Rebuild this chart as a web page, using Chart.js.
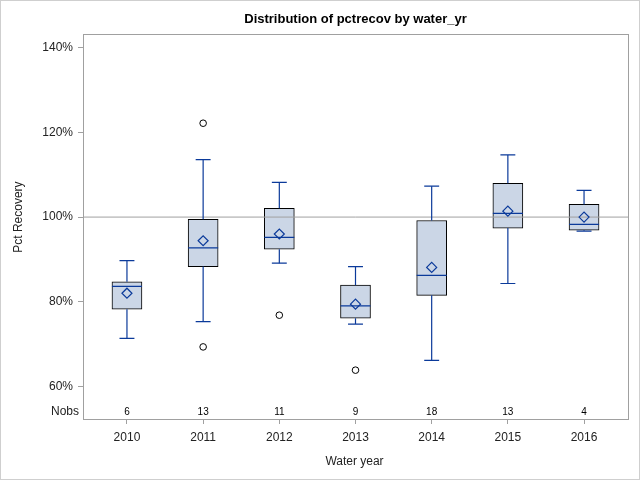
<!DOCTYPE html>
<html>
<head>
<meta charset="utf-8">
<script src="https://cdn.jsdelivr.net/npm/chart.js@4/dist/chart.umd.min.js"></script>
<style>
html,body{margin:0;padding:0;background:#fff;}
canvas{display:block;}
</style>
</head>
<body>
<canvas id="c" width="640" height="480"></canvas>
<script>
// ---- data ----
const categories = ['2010','2011','2012','2013','2014','2015','2016'];
const whiskerLow  = [71.3, 75.3, 89.1, 74.7, 66.1, 84.3, 96.7];
const q1Values    = [78.2, 88.3, 92.4, 76.1, 81.5, 97.4, 96.9];
const medians     = [83.6, 92.7, 95.2, 79.0, 86.2, 100.9, 98.3];
const q3Values    = [84.7, 99.5, 102.1, 83.9, 99.2, 108.0, 103.0];
const whiskerHigh = [89.7, 113.6, 108.2, 88.3, 107.3, 114.7, 106.3];
const means       = [82.0, 94.4, 96.0, 79.4, 88.1, 101.4, 100.0];
const outlierCat  = [1, 1, 2, 3];
const outlierVal  = [122.2, 69.3, 76.8, 63.8];
const nobs        = [6, 13, 11, 9, 18, 13, 4];
const yTicks      = [60, 80, 100, 120, 140];
const refValue    = 100;

// ---- styling ----
const BLUE = '#0b3a9a';
const FILL = '#cbd6e6';
const GRAY = '#a0a0a0';
const FONT = '"Liberation Sans", Arial, sans-serif';
const X_MIN = -0.577, X_MAX = 6.577;
const CAP = 0.098, HALF = 0.197;

// build derived datasets
const boxData = categories.map((c, i) => ({x: i, y: [q1Values[i], q3Values[i]]}));
const whiskerData = [];
const capData = [];
const medianData = [];
categories.forEach((c, i) => {
  whiskerData.push({x: i, y: q3Values[i]}, {x: i, y: whiskerHigh[i]}, {x: i, y: null});
  whiskerData.push({x: i, y: q1Values[i]}, {x: i, y: whiskerLow[i]}, {x: i, y: null});
  capData.push({x: i - CAP, y: whiskerHigh[i]}, {x: i + CAP, y: whiskerHigh[i]}, {x: i, y: null});
  capData.push({x: i - CAP, y: whiskerLow[i]}, {x: i + CAP, y: whiskerLow[i]}, {x: i, y: null});
  medianData.push({x: i - HALF, y: medians[i]}, {x: i + HALF, y: medians[i]}, {x: i, y: null});
});
const meanData = categories.map((c, i) => ({x: i, y: means[i]}));
const outlierData = outlierCat.map((c, k) => ({x: c, y: outlierVal[k]}));
const refData = [{x: X_MIN, y: refValue}, {x: X_MAX, y: refValue}];

const decor = {
  id: 'decor',
  beforeDraw(chart) {
    const ctx = chart.ctx;
    ctx.save();
    ctx.fillStyle = '#fff';
    ctx.fillRect(0, 0, chart.width, chart.height);
    ctx.restore();
  },
  afterDraw(chart) {
    const ctx = chart.ctx;
    const a = chart.chartArea;
    const xs = chart.scales.x, ys = chart.scales.y;
    ctx.save();
    // plot frame
    ctx.strokeStyle = GRAY;
    ctx.lineWidth = 1;
    ctx.strokeRect(Math.round(a.left) + 0.5, Math.round(a.top) + 0.5,
                   Math.round(a.right - a.left), Math.round(a.bottom - a.top));
    // outer border
    ctx.strokeStyle = '#cfcfcf';
    ctx.strokeRect(0.5, 0.5, chart.width - 1, chart.height - 1);
    // title
    ctx.fillStyle = '#000';
    ctx.font = 'bold 13px ' + FONT;
    ctx.textAlign = 'center';
    ctx.textBaseline = 'alphabetic';
    ctx.fillText('Distribution of pctrecov by water_yr', (a.left + a.right) / 2, 23);
    // x title
    ctx.fillStyle = '#222';
    ctx.font = '12px ' + FONT;
    ctx.fillText('Water year', (a.left + a.right) / 2 - 1, 465);
    // y title
    ctx.save();
    ctx.translate(19, ys.getPixelForValue(refValue));
    ctx.rotate(-Math.PI / 2);
    ctx.textBaseline = 'middle';
    ctx.fillText('Pct Recovery', 0, 0);
    ctx.restore();
    // Nobs row
    ctx.textBaseline = 'middle';
    ctx.textAlign = 'right';
    ctx.font = '12px ' + FONT;
    ctx.fillText('Nobs', a.left - 4, 411.5);
    ctx.textAlign = 'center';
    ctx.font = '10px ' + FONT;
    ctx.fillStyle = '#000';
    nobs.forEach((n, i) => ctx.fillText(String(n), xs.getPixelForValue(i), 412));
    ctx.restore();
  }
};

new Chart(document.getElementById('c'), {
  type: 'bar',
  data: {
    datasets: [
      {type: 'bar', data: boxData, backgroundColor: FILL, borderColor: '#000',
       borderWidth: 1, borderSkipped: false, barThickness: 30, order: 6},
      {type: 'line', data: refData, borderColor: GRAY, borderWidth: 1,
       pointRadius: 0, order: 5},
      {type: 'line', data: whiskerData, borderColor: BLUE, borderWidth: 1.2,
       pointRadius: 0, spanGaps: false, order: 4},
      {type: 'line', data: capData, borderColor: BLUE, borderWidth: 1.2,
       pointRadius: 0, spanGaps: false, order: 4},
      {type: 'line', data: medianData, borderColor: BLUE, borderWidth: 1.2,
       pointRadius: 0, spanGaps: false, order: 3},
      {type: 'scatter', data: meanData, pointStyle: 'rectRot', pointRadius: 5,
       borderColor: BLUE, borderWidth: 1.2, backgroundColor: 'rgba(0,0,0,0)', order: 2},
      {type: 'scatter', data: outlierData, pointStyle: 'circle', pointRadius: 3.3,
       borderColor: '#000', borderWidth: 1, backgroundColor: 'rgba(0,0,0,0)', order: 1}
    ]
  },
  options: {
    responsive: false,
    animation: false,
    devicePixelRatio: 1,
    layout: {padding: {top: 34, right: 12, left: 0, bottom: 0}},
    plugins: {legend: {display: false}, tooltip: {enabled: false}, title: {display: false}},
    scales: {
      x: {
        type: 'linear', min: X_MIN, max: X_MAX, offset: false,
        afterBuildTicks(s) { s.ticks = categories.map((c, i) => ({value: i})); },
        afterFit(s) { s.height = 61; },
        ticks: {callback: (v) => categories[v] ?? '', color: '#222',
                font: {family: FONT, size: 12}, padding: 6, maxRotation: 0, autoSkip: false},
        grid: {offset: false, drawOnChartArea: false, drawTicks: true, tickLength: 5, color: GRAY},
        border: {display: false}
      },
      y: {
        type: 'linear', min: 52.25, max: 143.3,
        afterBuildTicks(s) { s.ticks = yTicks.map(v => ({value: v})); },
        afterFit(s) { s.width = 83; },
        ticks: {callback: (v) => v + '%', color: '#222',
                font: {family: FONT, size: 12}, padding: 5},
        grid: {drawOnChartArea: false, drawTicks: true, tickLength: 5, color: GRAY},
        border: {display: false}
      }
    }
  },
  plugins: [decor]
});
</script>
</body>
</html>
